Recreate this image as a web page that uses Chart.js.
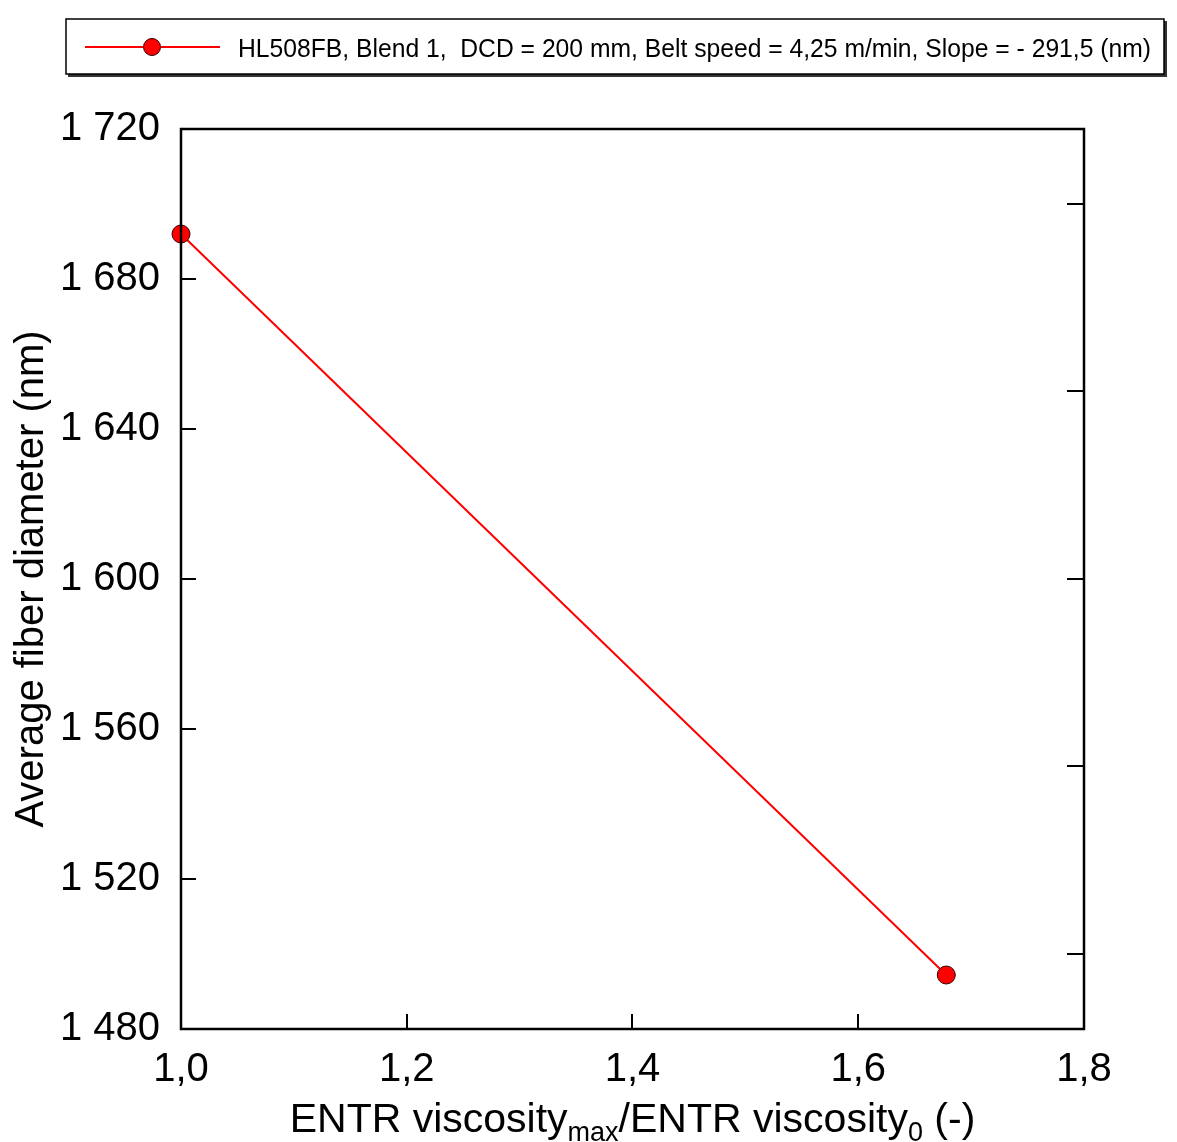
<!DOCTYPE html>
<html>
<head>
<meta charset="utf-8">
<script src="https://cdn.jsdelivr.net/npm/chart.js@4.4.1/dist/chart.umd.min.js"></script>
<style>
  html, body { margin: 0; padding: 0; background: #fff; }
  canvas { display: block; }
</style>
</head>
<body>
<canvas id="chart" width="1177" height="1142"></canvas>
<script>
// Measured series: fibre diameter against the ENTR viscosity ratio
const viscosityRatio = [1.0, 1.678];
const fiberDiameter = [1692.0, 1494.4];

// Axis tick labels (comma decimals, space thousands separator)
const xTickLabels = ['1,0', '1,2', '1,4', '1,6', '1,8'];
const yTickLabels = ['1 480', '1 520', '1 560', '1 600', '1 640', '1 680', '1 720'];
// Tick marks on the right-hand frame edge
const rightTickValues = [1500, 1550, 1600, 1650, 1700];

const seriesLabel = 'HL508FB, Blend 1,  DCD = 200 mm, Belt speed = 4,25 m/min, Slope = - 291,5 (nm)';
const yTitle = 'Average fiber diameter (nm)';
const xTitleParts = [
  { text: 'ENTR viscosity', sub: false },
  { text: 'max', sub: true },
  { text: '/ENTR viscosity', sub: false },
  { text: '0', sub: true },
  { text: ' (-)', sub: false }
];

const FONT = '"Liberation Sans", Arial, Helvetica, sans-serif';
const RED = '#ff0000';

// Frame, inward tick marks, legend box and axis titles
const decorations = {
  id: 'decorations',
  afterDraw(chart) {
    const ctx = chart.ctx;
    const a = chart.chartArea;
    const xs = chart.scales.x;
    const ys = chart.scales.y;
    const TICK = 15;

    ctx.save();
    ctx.strokeStyle = '#000';
    ctx.lineWidth = 2.5;
    ctx.strokeRect(a.left, a.top, a.right - a.left, a.bottom - a.top);

    ctx.lineWidth = 2;
    ctx.beginPath();
    ys.ticks.forEach(t => {
      const y = Math.round(ys.getPixelForValue(t.value));
      ctx.moveTo(a.left, y);
      ctx.lineTo(a.left + TICK, y);
    });
    xs.ticks.forEach(t => {
      const x = Math.round(xs.getPixelForValue(t.value));
      ctx.moveTo(x, a.bottom);
      ctx.lineTo(x, a.bottom - TICK);
    });
    rightTickValues.forEach(v => {
      const y = Math.round(ys.getPixelForValue(v));
      ctx.moveTo(a.right, y);
      ctx.lineTo(a.right - TICK - 2, y);
    });
    ctx.stroke();

    // Legend box with drop shadow
    const lx = 66, ly = 19, lw = 1098, lh = 55;
    ctx.fillStyle = '#333';
    ctx.fillRect(lx + 2, ly + 2, lw + 1, lh + 1);
    ctx.fillStyle = '#fff';
    ctx.fillRect(lx, ly, lw, lh);
    ctx.lineWidth = 1.5;
    ctx.strokeStyle = '#000';
    ctx.strokeRect(lx, ly, lw, lh);

    const ds = chart.data.datasets[0];
    const cy = 47;
    ctx.strokeStyle = ds.borderColor;
    ctx.lineWidth = 2;
    ctx.beginPath();
    ctx.moveTo(85, cy);
    ctx.lineTo(220, cy);
    ctx.stroke();
    ctx.beginPath();
    ctx.arc(152, cy, 8.5, 0, Math.PI * 2);
    ctx.fillStyle = ds.pointBackgroundColor;
    ctx.fill();
    ctx.lineWidth = 1;
    ctx.strokeStyle = ds.pointBorderColor;
    ctx.stroke();

    ctx.fillStyle = '#000';
    ctx.font = '25px ' + FONT;
    ctx.textAlign = 'left';
    ctx.textBaseline = 'alphabetic';
    const txt = ds.label;
    const w = ctx.measureText(txt).width;
    const target = 913;
    ctx.save();
    ctx.translate(238, 57);
    ctx.scale(target / w, 1);
    ctx.fillText(txt, 0, 0);
    ctx.restore();

    // Y axis title
    ctx.save();
    ctx.translate(32, (a.top + a.bottom) / 2);
    ctx.rotate(-Math.PI / 2);
    ctx.font = '40px ' + FONT;
    ctx.textAlign = 'center';
    ctx.textBaseline = 'middle';
    ctx.fillText(yTitle, 0, 0);
    ctx.restore();

    // X axis title with subscripts
    const mainFont = '41px ' + FONT;
    const subFont = '27px ' + FONT;
    let total = 0;
    xTitleParts.forEach(p => {
      ctx.font = p.sub ? subFont : mainFont;
      p.w = ctx.measureText(p.text).width;
      total += p.w;
    });
    let x = (a.left + a.right) / 2 - total / 2;
    const base = 1132;
    ctx.textAlign = 'left';
    ctx.textBaseline = 'alphabetic';
    xTitleParts.forEach(p => {
      ctx.font = p.sub ? subFont : mainFont;
      ctx.fillText(p.text, x, p.sub ? base + 9 : base);
      x += p.w;
    });
    ctx.restore();
  }
};

new Chart(document.getElementById('chart'), {
  type: 'line',
  data: {
    datasets: [{
      label: seriesLabel,
      data: viscosityRatio.map((v, i) => ({ x: v, y: fiberDiameter[i] })),
      borderColor: RED,
      borderWidth: 2,
      pointBackgroundColor: RED,
      pointBorderColor: '#300000',
      pointBorderWidth: 1,
      pointRadius: 9,
      tension: 0,
      clip: false
    }]
  },
  options: {
    responsive: false,
    animation: false,
    events: [],
    layout: { padding: { top: 129, right: 93, left: 0, bottom: 0 } },
    plugins: {
      legend: { display: false },
      tooltip: { enabled: false },
      title: { display: false }
    },
    scales: {
      x: {
        type: 'linear',
        min: 1.0,
        max: 1.8,
        grid: { display: false, drawTicks: false },
        border: { display: false },
        ticks: {
          stepSize: 0.2,
          color: '#000',
          padding: 17,
          maxRotation: 0,
          font: { family: FONT, size: 40 },
          callback: (v, i) => xTickLabels[i]
        },
        afterFit: s => { s.height = 113; }
      },
      y: {
        type: 'linear',
        min: 1480,
        max: 1720,
        grid: { display: false, drawTicks: false },
        border: { display: false },
        ticks: {
          stepSize: 40,
          color: '#000',
          padding: 21,
          font: { family: FONT, size: 40 },
          callback: (v, i) => yTickLabels[i]
        },
        afterFit: s => { s.width = 181; }
      }
    }
  },
  plugins: [decorations]
});
</script>
</body>
</html>
